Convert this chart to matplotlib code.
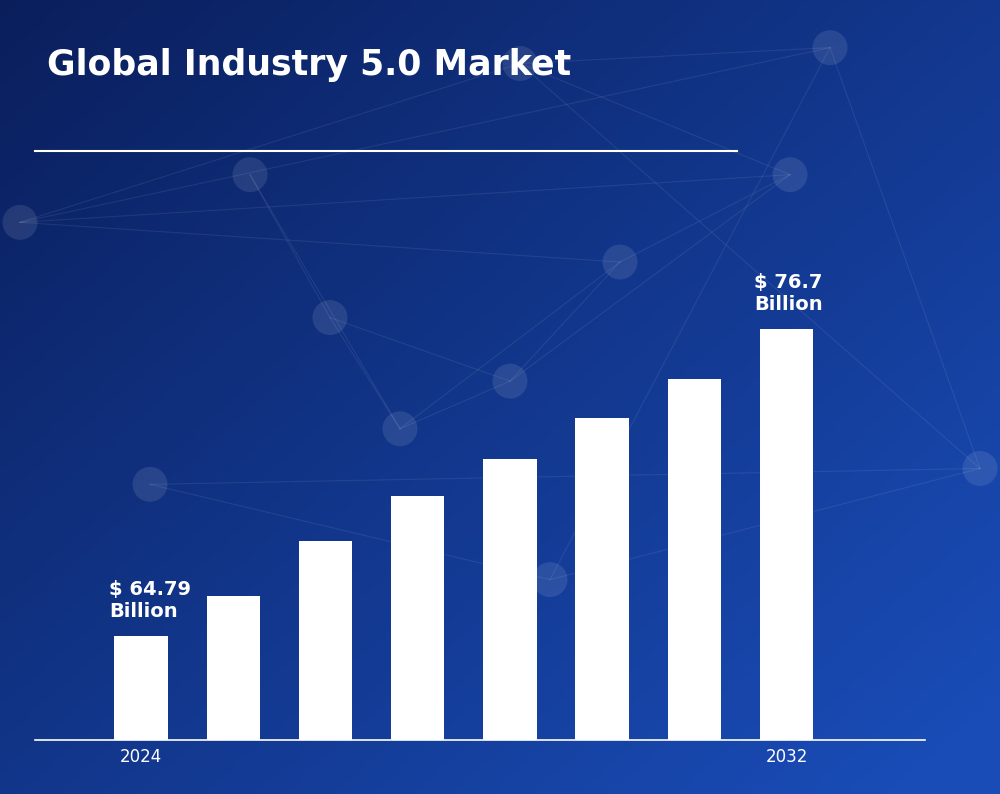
import numpy as np
import matplotlib.pyplot as plt
from matplotlib.patches import Ellipse

years = ["2024", "2025", "2026", "2027", "2028", "2029", "2030", "2032"]
values = [64.79, 66.35, 68.48, 70.22, 71.66, 73.25, 74.76, 76.7]
shown_ticks = {0: "2024", 7: "2032"}
base = 60.76

fig = plt.figure(figsize=(10, 7.94), dpi=100)
bg = fig.add_axes([0, 0, 1, 1])
yy, xx = np.mgrid[0:1:200j, 0:1:200j]
t = np.clip(0.55 * xx + 0.5 * yy, 0, 1)
dark = np.array([0.04, 0.12, 0.36])
light = np.array([0.10, 0.30, 0.72])
img = dark[None, None, :] * (1 - t[..., None]) + light[None, None, :] * t[..., None]
bg.imshow(img, extent=[0, 1, 0, 1], origin="upper", aspect="auto")
nodes = [(0.25, 0.78), (0.33, 0.6), (0.4, 0.46), (0.51, 0.52), (0.62, 0.67), (0.79, 0.78),
         (0.02, 0.72), (0.52, 0.92), (0.83, 0.94), (0.98, 0.41), (0.55, 0.27), (0.15, 0.39)]
for i, (x1, y1) in enumerate(nodes):
    for x2, y2 in nodes[i + 1:i + 3]:
        bg.plot([x1, x2], [y1, y2], color="white", alpha=0.08, lw=0.8)
for x, y in nodes:
    bg.add_patch(Ellipse((x, y), 0.035, 0.044, color="white", alpha=0.1, lw=0))
bg.plot([0.035, 0.737], [1 - 151 / 794, 1 - 151 / 794], color="white", lw=1.5)
bg.text(0.047, 1 - 65 / 794, "Global Industry 5.0 Market", color="white",
        fontsize=25, fontweight="bold", va="center", ha="left")
bg.set_xlim(0, 1); bg.set_ylim(0, 1); bg.axis("off")

ax = fig.add_axes([0.035, 54 / 794, 0.89, 490 / 794])
ax.patch.set_alpha(0)
x = np.arange(len(values))
ax.bar(x, np.array(values) - base, bottom=base, width=0.58, color="white")
ax.set_xlim(-1.15, 8.5)
ax.set_ylim(base, 79.77)
for s in ["top", "right", "left"]:
    ax.spines[s].set_visible(False)
ax.spines["bottom"].set_color("white")
ax.spines["bottom"].set_linewidth(1.2)
ax.set_yticks([])
ax.set_xticks(list(shown_ticks.keys()))
ax.set_xticklabels(list(shown_ticks.values()), color="white", fontsize=12)
ax.tick_params(axis="x", length=0, pad=6)
for i in [0, 7]:
    ax.text(x[i] - 0.35, values[i] + 0.6, f"$ {values[i]:g}\nBillion", color="white",
            fontsize=14, fontweight="bold", ha="left", va="bottom", linespacing=1.2)
fig.savefig("out.png", dpi=100)
